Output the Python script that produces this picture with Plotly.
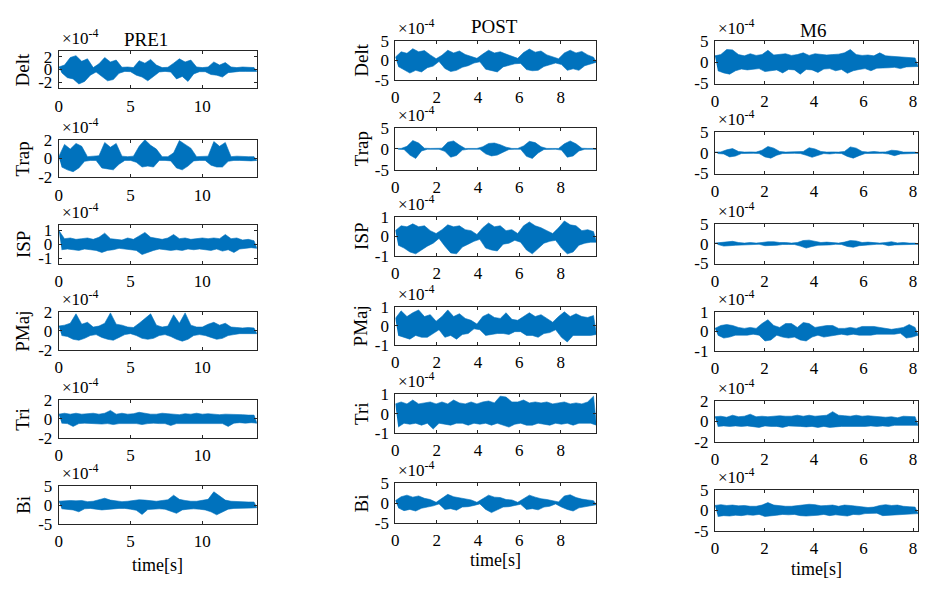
import numpy as np
import plotly.graph_objects as go

# ---------------- data (signal samples, in units of 1e-4) ----------------
COLUMNS = ["PRE1", "POST", "M6"]
MUSCLES = ["Delt", "Trap", "ISP", "PMaj", "Tri", "Bi"]
DURATION = {"PRE1": 13.8, "POST": 9.73, "M6": 8.2}
XTICKS = {"PRE1": [0, 5, 10], "POST": [0, 2, 4, 6, 8], "M6": [0, 2, 4, 6, 8]}
YLIM = {"PRE1": [3, 2, 1.4, 2, 2, 5], "POST": [5, 5, 1, 1, 1, 5], "M6": [5, 5, 5, 1, 2, 5]}
YTICK = {"PRE1": [2, 2, 1, 2, 2, 5], "POST": [5, 5, 1, 1, 1, 5], "M6": [5, 5, 5, 1, 2, 5]}
SCALE_LABEL = "×10<sup>-4</sup>"
X_LABEL = "time[s]"

PRE1_DELT = [0.4, -0.5, 0.7, -1.3, 1.9, -1.5, 2.2, -2.3, 1.3, -1.9, 1.7, -0.9, 0.3, -0.4, 0.9, -1.1, 1.9, -1.8, 1.2, -1.6,
             1.5, -0.6, 0.35, -0.3, 0.4, -0.35, 0.3, -0.9, 1.4, -1.2, 1.0, -1.8, 1.6, -1.1, 0.7, -0.4, 0.3, -0.3, 0.35, -0.4,
             1.0, -1.5, 1.7, -1.1, 1.2, -1.9, 1.5, -0.7, 0.4, -0.35, 0.3, -0.35, 0.4, -0.8, 1.2, -0.9, 0.7, -1.2, 1.1, -0.5,
             0.4, -0.35, 0.3, -0.3, 0.4, -0.3, 0.3, -0.35, 0.3, -0.3]
PRE1_TRAP = [0.2, -0.9, 1.5, -1.2, 1.0, -1.4, 1.6, -1.0, 1.3, -0.3, 0.2, -0.2, 0.25, -0.2, 0.3, -1.0, 1.7, -1.1, 1.2, -1.2,
             1.6, -0.6, 0.25, -0.2, 0.2, -0.2, 0.25, -0.4, 1.3, -0.9, 2.0, -0.8, 1.4, -0.9, 1.0, -0.2, 0.2, -0.2, 0.2, -0.25,
             0.6, -1.0, 1.9, -1.2, 1.5, -0.8, 1.1, -0.25, 0.2, -0.2, 0.2, -0.2, 0.25, -0.7, 1.8, -0.9, 1.3, -0.9, 1.7, -0.3,
             0.2, -0.2, 0.25, -0.2, 0.2, -0.2, 0.2, -0.25, 0.2, -0.2]
PRE1_ISP = [1.0, -0.4, 0.4, -0.35, 0.45, -0.4, 0.35, -0.45, 0.4, -0.35, 0.45, -0.4, 0.35, -0.45, 0.5, -0.6, 0.8, -0.45, 0.4, -0.4,
            0.35, -0.3, 0.3, -0.35, 0.45, -0.4, 0.35, -0.45, 0.6, -0.75, 0.85, -0.6, 0.5, -0.45, 0.4, -0.35, 0.35, -0.4, 0.45, -0.45,
            0.7, -0.4, 0.4, -0.45, 0.45, -0.35, 0.35, -0.4, 0.4, -0.35, 0.45, -0.4, 0.4, -0.45, 0.45, -0.35, 0.4, -0.5, 0.7, -0.4,
            0.4, -0.6, 0.45, -0.35, 0.3, -0.3, 0.35, -0.25, 0.25, -0.3]
PRE1_PMAJ = [0.5, -0.5, 0.6, -0.6, 0.8, -0.9, 1.8, -1.0, 0.7, -0.8, 0.9, -0.5, 0.4, -0.4, 0.5, -0.7, 0.8, -0.9, 1.9, -1.0,
             0.7, -0.7, 0.6, -0.4, 0.4, -0.3, 0.35, -0.5, 0.8, -0.8, 1.3, -0.9, 1.8, -0.8, 0.6, -0.5, 0.4, -0.4, 0.5, -0.6,
             1.7, -0.9, 0.8, -1.1, 1.9, -0.9, 0.6, -0.5, 0.4, -0.4, 0.4, -0.5, 0.7, -0.7, 0.9, -0.9, 0.6, -0.8, 0.8, -0.5,
             0.4, -0.4, 0.35, -0.3, 0.3, -0.3, 0.35, -0.3, 0.3, -0.3]
PRE1_TRI = [0.5, -0.45, 0.6, -0.5, 0.5, -0.8, 0.6, -0.5, 0.5, -0.45, 0.55, -0.5, 0.6, -0.5, 0.5, -0.55, 0.6, -0.5, 0.9, -0.6,
            0.5, -0.5, 0.6, -0.45, 0.5, -0.5, 0.55, -0.5, 0.7, -0.6, 0.6, -0.5, 0.5, -0.45, 0.5, -0.5, 0.6, -0.5, 0.55, -0.7,
            0.5, -0.5, 0.45, -0.5, 0.55, -0.45, 0.5, -0.5, 0.6, -0.5, 0.5, -0.45, 0.55, -0.5, 0.5, -0.5, 0.45, -0.5, 0.5, -0.8,
            0.5, -0.45, 0.5, -0.4, 0.45, -0.45, 0.4, -0.4, 0.4, -0.45]
PRE1_BI = [1.0, -1.0, 1.1, -1.1, 1.2, -1.3, 1.1, -1.8, 1.2, -1.0, 0.9, -0.9, 1.0, -1.1, 1.4, -1.3, 1.8, -1.2, 1.3, -1.0,
           1.0, -0.9, 0.9, -0.9, 1.0, -1.1, 1.2, -1.4, 1.4, -2.5, 1.3, -1.2, 1.1, -1.0, 1.0, -1.0, 1.2, -1.1, 1.4, -1.6,
           2.6, -2.2, 1.5, -1.3, 1.2, -1.1, 1.0, -1.0, 1.0, -1.1, 1.2, -1.3, 1.5, -1.8, 3.5, -2.6, 2.4, -1.8, 1.3, -1.1,
           1.0, -0.9, 0.9, -0.8, 0.8, -0.8, 0.8, -0.8, 0.8, -0.7]

POST_DELT = [0.8, -1.6, 2.2, -2.4, 1.8, -3.3, 3.0, -2.6, 2.2, -3.0, 2.5, -1.9, 1.4, -1.5, 0.4, -0.3, 1.3, -2.1, 2.6, -2.9,
             1.9, -2.6, 2.4, -1.8, 1.5, -1.4, 1.0, -0.7, 0.5, -0.4, 1.6, -2.3, 2.6, -2.7, 1.9, -3.0, 2.2, -1.7, 1.6, -1.4,
             1.1, -0.9, 0.5, -0.8, 2.0, -2.4, 2.9, -2.7, 2.1, -2.6, 2.4, -1.6, 1.4, -1.2, 0.9, -0.7, 0.4, -1.1, 1.9, -2.6,
             2.6, -2.2, 1.9, -2.6, 2.3, -1.4, 1.4, -1.0, 0.8, -0.5]
POST_TRAP = [0.1, -0.1, 0.1, -0.15, 0.6, -1.5, 2.0, -2.3, 1.4, -0.5, 0.15, -0.1, 0.1, -0.1, 0.1, -0.1, 0.15, -0.6, 1.6, -2.0,
             1.9, -1.6, 0.9, -0.3, 0.1, -0.1, 0.1, -0.1, 0.1, -0.1, 0.5, -1.2, 1.3, -1.7, 1.4, -1.5, 1.0, -0.8, 0.4, -0.15,
             0.1, -0.1, 0.1, -0.1, 0.7, -1.8, 1.8, -2.3, 1.5, -1.0, 0.5, -0.15, 0.1, -0.1, 0.1, -0.1, 0.1, -0.3, 1.2, -2.0,
             1.9, -1.7, 1.2, -0.5, 0.15, -0.1, 0.1, -0.1, 0.1, -0.1]
POST_ISP = [0.3, -0.45, 0.55, -0.6, 0.5, -0.8, 0.65, -0.9, 0.5, -0.7, 0.55, -0.5, 0.3, -0.35, 0.15, -0.1, 0.35, -0.5, 0.6, -0.85,
            0.5, -0.9, 0.55, -0.55, 0.35, -0.4, 0.3, -0.25, 0.1, -0.15, 0.45, -0.6, 0.7, -0.7, 0.5, -0.75, 0.55, -0.4, 0.3, -0.35,
            0.35, -0.2, 0.15, -0.3, 0.55, -0.7, 0.75, -0.9, 0.55, -0.65, 0.45, -0.35, 0.3, -0.25, 0.15, -0.2, 0.45, -0.6, 0.8, -0.9,
            0.6, -0.8, 0.55, -0.45, 0.3, -0.35, 0.35, -0.3, 0.25, -0.3]
POST_PMAJ = [0.4, -0.5, 0.8, -0.6, 0.5, -0.7, 0.7, -0.5, 0.85, -0.6, 0.5, -0.6, 0.6, -0.4, 0.25, -0.2, 0.5, -0.6, 0.85, -0.5,
             0.5, -0.7, 0.65, -0.45, 0.4, -0.4, 0.3, -0.15, 0.1, -0.2, 0.5, -0.5, 0.65, -0.45, 0.45, -0.4, 0.4, -0.4, 0.7, -0.45,
             0.35, -0.3, 0.3, -0.3, 0.5, -0.5, 0.7, -0.5, 0.5, -0.6, 0.6, -0.4, 0.4, -0.35, 0.2, -0.2, 0.5, -0.6, 0.75, -0.85,
             0.5, -0.5, 0.65, -0.5, 0.5, -0.5, 0.45, -0.5, 0.55, -0.45]
POST_TRI = [0.5, -0.7, 0.6, -0.5, 0.5, -0.55, 0.7, -0.5, 0.5, -0.6, 0.55, -0.5, 0.6, -0.8, 0.5, -0.5, 0.6, -0.55, 0.5, -0.6,
            0.7, -0.5, 0.55, -0.5, 0.5, -0.6, 0.6, -0.5, 0.5, -0.55, 0.6, -0.5, 0.65, -0.6, 0.55, -0.5, 0.9, -0.6, 0.85, -0.7,
            0.6, -0.55, 0.6, -0.5, 0.7, -0.6, 0.55, -0.6, 0.6, -0.5, 0.55, -0.55, 0.6, -0.6, 0.5, -0.5, 0.55, -0.55, 0.6, -0.5,
            0.5, -0.6, 0.55, -0.5, 0.5, -0.5, 0.6, -0.5, 0.9, -0.6]
POST_BI = [0.6, -1.2, 1.6, -1.9, 2.0, -1.6, 1.5, -2.0, 1.8, -1.3, 1.2, -1.0, 0.9, -0.7, 0.2, -0.2, 1.2, -1.6, 2.2, -1.4,
           1.6, -1.8, 1.3, -1.0, 1.0, -0.9, 0.8, -0.6, 0.2, -0.2, 1.0, -1.6, 2.0, -2.4, 1.5, -1.8, 1.4, -1.0, 0.9, -0.9,
           0.8, -0.6, 0.2, -0.3, 1.2, -1.6, 2.0, -1.4, 1.5, -1.7, 1.1, -1.0, 0.9, -0.8, 0.6, -0.2, 0.3, -1.0, 1.8, -1.6,
           2.1, -2.0, 1.4, -1.2, 1.0, -0.9, 0.8, -0.7, 0.6, -0.4]

M6_DELT = [1.5, -2.0, 1.8, -2.5, 3.0, -2.8, 2.9, -2.0, 1.8, -1.6, 1.5, -1.8, 2.0, -1.7, 1.6, -1.5, 1.8, -2.2, 2.8, -2.0,
           1.7, -1.8, 1.9, -2.5, 2.0, -1.7, 1.6, -1.8, 1.8, -2.8, 2.2, -1.7, 1.6, -1.8, 2.0, -2.4, 1.8, -1.6, 1.7, -1.5,
           1.8, -2.0, 1.9, -1.7, 2.2, -2.6, 3.0, -2.0, 1.8, -1.7, 1.6, -1.5, 1.7, -2.0, 1.5, -1.4, 2.2, -1.4, 1.5, -1.3,
           1.4, -1.2, 1.3, -1.5, 1.2, -1.1, 1.1, -1.0, 1.0, -1.0]
M6_TRAP = [0.15, -0.2, 0.2, -0.3, 0.7, -1.0, 1.0, -0.8, 0.3, -0.2, 0.15, -0.15, 0.2, -0.15, 0.15, -0.2, 0.6, -1.0, 1.5, -1.3,
           1.1, -0.6, 0.3, -0.2, 0.15, -0.2, 0.2, -0.15, 0.15, -0.2, 0.3, -0.6, 1.2, -1.1, 0.9, -0.6, 0.3, -0.2, 0.15, -0.3,
           0.2, -0.15, 0.15, -0.2, 0.3, -0.9, 1.4, -1.3, 1.1, -0.7, 0.3, -0.2, 0.15, -0.15, 0.3, -0.2, 0.15, -0.15, 0.2, -0.3,
           0.6, -0.7, 0.5, -0.3, 0.15, -0.15, 0.2, -0.15, 0.15, -0.15]
M6_ISP = [0.15, -0.2, 0.3, -0.6, 0.6, -0.5, 0.6, -0.4, 0.3, -0.2, 0.15, -0.15, 0.3, -0.2, 0.15, -0.15, 0.3, -0.5, 0.5, -0.4,
          0.5, -0.4, 0.3, -0.2, 0.3, -0.2, 0.15, -0.2, 0.3, -0.6, 0.8, -1.1, 0.9, -0.7, 0.6, -0.4, 0.3, -0.3, 0.4, -0.3,
          0.2, -0.15, 0.15, -0.2, 0.4, -0.7, 0.8, -0.9, 0.7, -0.5, 0.3, -0.3, 0.4, -0.3, 0.2, -0.15, 0.15, -0.15, 0.3, -0.5,
          0.5, -0.3, 0.2, -0.15, 0.3, -0.2, 0.15, -0.15, 0.15, -0.15]
M6_PMAJ = [0.15, -0.2, 0.3, -0.35, 0.35, -0.3, 0.3, -0.2, 0.2, -0.2, 0.15, -0.2, 0.2, -0.15, 0.15, -0.2, 0.4, -0.5, 0.6, -0.45,
           0.3, -0.2, 0.2, -0.3, 0.4, -0.35, 0.4, -0.3, 0.2, -0.45, 0.45, -0.5, 0.4, -0.3, 0.2, -0.2, 0.25, -0.3, 0.3, -0.25,
           0.3, -0.2, 0.15, -0.15, 0.15, -0.2, 0.2, -0.15, 0.15, -0.2, 0.25, -0.2, 0.25, -0.2, 0.25, -0.15, 0.2, -0.15, 0.15, -0.15,
           0.1, -0.15, 0.15, -0.1, 0.2, -0.35, 0.35, -0.3, 0.2, -0.2]
M6_TRI = [0.45, -0.5, 0.5, -0.45, 0.4, -0.5, 0.6, -0.45, 0.45, -0.5, 0.5, -0.45, 0.7, -0.5, 0.45, -0.6, 0.5, -0.45, 0.45, -0.5,
          0.5, -0.5, 0.55, -0.6, 0.5, -0.45, 0.5, -0.5, 0.6, -0.5, 0.5, -0.55, 0.6, -0.5, 0.5, -0.6, 0.55, -0.5, 0.6, -0.6,
          0.95, -0.55, 0.6, -0.5, 0.55, -0.5, 0.5, -0.45, 0.6, -0.5, 0.5, -0.5, 0.55, -0.45, 0.5, -0.5, 0.45, -0.45, 0.4, -0.5,
          0.45, -0.4, 0.35, -0.4, 0.5, -0.45, 0.45, -0.4, 0.45, -0.4]
M6_BI = [1.2, -1.5, 1.4, -1.3, 1.2, -1.4, 1.3, -1.2, 1.1, -1.3, 1.2, -1.1, 1.0, -1.2, 1.0, -1.0, 1.3, -1.5, 1.9, -1.4,
         1.3, -1.2, 1.1, -1.0, 1.0, -1.1, 1.0, -1.0, 1.2, -1.3, 1.4, -1.4, 1.5, -1.3, 1.4, -1.2, 1.1, -1.0, 1.2, -1.3,
         1.3, -1.1, 1.0, -1.2, 1.3, -1.4, 1.2, -1.0, 1.0, -1.1, 0.9, -0.8, 0.7, -0.7, 0.8, -0.7, 1.2, -1.3, 1.4, -1.3,
         1.2, -1.2, 1.3, -1.1, 1.0, -1.0, 0.9, -0.9, 0.8, -0.8]

SIGNALS = {
    "PRE1": [PRE1_DELT, PRE1_TRAP, PRE1_ISP, PRE1_PMAJ, PRE1_TRI, PRE1_BI],
    "POST": [POST_DELT, POST_TRAP, POST_ISP, POST_PMAJ, POST_TRI, POST_BI],
    "M6": [M6_DELT, M6_TRAP, M6_ISP, M6_PMAJ, M6_TRI, M6_BI],
}

# ---------------- layout geometry (pixels) ----------------
W, H = 926, 591
COL_X = {"PRE1": (55, 254), "POST": (393, 595), "M6": (714, 918)}
ROW_Y = {
    "PRE1": [(43, 82), (135, 174), (223, 263), (313, 352), (404, 443), (493, 532)],
    "POST": [(33, 73), (123, 166), (215, 255), (308, 347), (398, 438), (490, 531)],
    "M6": [(33, 77), (127, 170), (222, 263), (313, 353), (405, 447), (497, 539)],
}
YTITLE_X = {"PRE1": 19, "POST": 359}
COL_TITLE_POS = {"PRE1": (143, 31), "POST": (493, 18), "M6": (813, 22)}
XLABEL_Y = {"PRE1": 574, "POST": 569, "M6": 579}

FONT = "Liberation Serif, Times New Roman, serif"
LINE_COLOR = "#0072BD"
AX_COLOR = "#262626"

fig = go.Figure()
annotations = []
k = 0
for col in COLUMNS:
    x0, x1 = COL_X[col]
    for r, mus in enumerate(MUSCLES):
        k += 1
        sig = np.array(SIGNALS[col][r])
        t = np.linspace(0, DURATION[col], len(sig))
        up = sig >= 0
        # band: positive samples form the upper edge, negative samples the lower edge
        bx = np.concatenate([t[up], t[~up][::-1]])
        by = np.concatenate([sig[up], sig[~up][::-1]])
        xa = "x" if k == 1 else f"x{k}"
        ya = "y" if k == 1 else f"y{k}"
        fig.add_trace(go.Scatter(x=bx, y=by, mode="lines", xaxis=xa, yaxis=ya, fill="toself",
                                 fillcolor=LINE_COLOR, line=dict(color=LINE_COLOR, width=0.6),
                                 showlegend=False, hoverinfo="skip"))
        top, bot = ROW_Y[col][r]
        lim = YLIM[col][r]
        yt = YTICK[col][r]
        xkey = "xaxis" if k == 1 else f"xaxis{k}"
        ykey = "yaxis" if k == 1 else f"yaxis{k}"
        fig.update_layout(**{
            xkey: dict(domain=[x0 / W, x1 / W], anchor=ya, range=[0, DURATION[col]],
                       tickvals=XTICKS[col], ticktext=[str(v) for v in XTICKS[col]],
                       showline=True, mirror="ticks", linecolor=AX_COLOR, linewidth=1,
                       ticks="inside", ticklen=3, tickcolor=AX_COLOR, showgrid=False, zeroline=False,
                       tickfont=dict(family=FONT, size=17, color="black"), ticklabelstandoff=2,
                       fixedrange=True),
            ykey: dict(domain=[1 - bot / H, 1 - top / H], anchor=xa, range=[-lim, lim],
                       tickvals=[-yt, 0, yt], ticktext=[str(-yt), "0", str(yt)],
                       showline=True, mirror="ticks", linecolor=AX_COLOR, linewidth=1,
                       ticks="inside", ticklen=3, tickcolor=AX_COLOR, showgrid=False, zeroline=False,
                       tickfont=dict(family=FONT, size=17, color="black"), ticklabelstandoff=2,
                       fixedrange=True),
        })
        annotations.append(dict(x=(x0 + 1) / W, y=1 - (top - 1) / H, xref="paper", yref="paper",
                                xanchor="left", yanchor="bottom", showarrow=False,
                                text=SCALE_LABEL, font=dict(family=FONT, size=17, color="black")))
        if col in YTITLE_X:
            annotations.append(dict(x=YTITLE_X[col] / W, y=1 - ((top + bot) / 2) / H, xref="paper", yref="paper",
                                    xanchor="center", yanchor="middle", showarrow=False, textangle=-90,
                                    text=mus, font=dict(family=FONT, size=19, color="black")))
    tx, ty = COL_TITLE_POS[col]
    annotations.append(dict(x=tx / W, y=1 - ty / H, xref="paper", yref="paper", xanchor="center",
                            yanchor="middle", showarrow=False, text=col,
                            font=dict(family=FONT, size=19, color="black")))
    annotations.append(dict(x=((x0 + x1) / 2) / W, y=1 - XLABEL_Y[col] / H, xref="paper", yref="paper",
                            xanchor="center", yanchor="middle", showarrow=False, text=X_LABEL,
                            font=dict(family=FONT, size=18, color="black")))

fig.update_layout(width=W, height=H, margin=dict(l=0, r=0, t=0, b=0),
                  paper_bgcolor="white", plot_bgcolor="white", annotations=annotations)
fig.write_html("out.html", config={"displayModeBar": False},
               post_script="document.body.style.margin='0';")
